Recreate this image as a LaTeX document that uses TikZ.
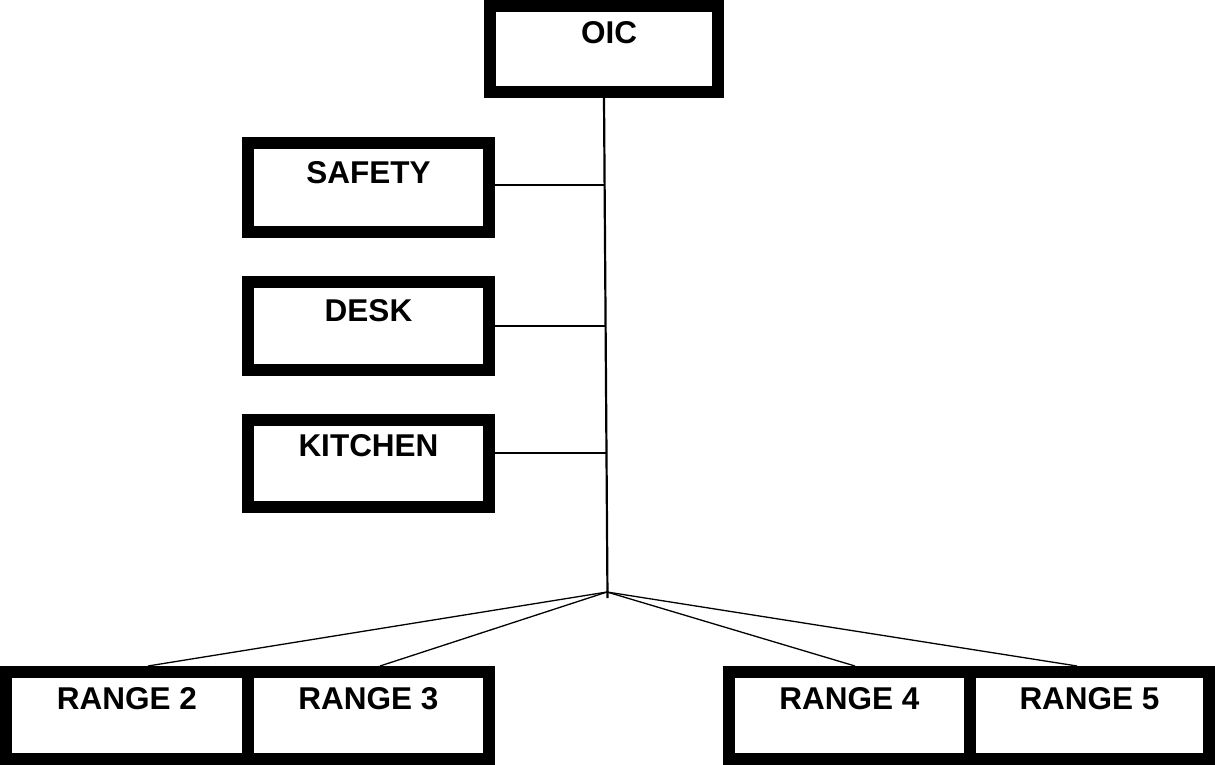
\documentclass[tikz,border=0pt]{standalone}
\usepackage{fontspec}
\setmainfont{Liberation Sans}
\usetikzlibrary{calc}
\begin{document}
\begin{tikzpicture}[x=1pt,y=-1pt,
  unitbox/.style={draw=black,line width=12pt,fill=white,inner sep=0pt,minimum height=87pt},
  lbl/.style={anchor=base,inner sep=0pt,font=\fontsize{31.5}{37}\selectfont\bfseries},
  conn/.style={draw=black,line width=1.3pt},
  trunk/.style={draw=black,line width=2.2pt}]
\useasboundingbox (0,0) rectangle (1215,765);
% boxes
\node[unitbox,minimum width=228pt,minimum height=86pt] (oic) at (604,49) {};
\node[unitbox,minimum width=241pt,minimum height=89pt] (safety) at (368.5,187.5) {};
\node[unitbox,minimum width=241pt,minimum height=88pt] (desk) at (368.5,326) {};
\node[unitbox,minimum width=241pt,minimum height=87pt] (kitchen) at (368.5,463.5) {};
\node[unitbox,minimum width=242pt] (r2) at (127,715.5) {};
\node[unitbox,minimum width=241pt] (r3) at (368.5,715.5) {};
\node[unitbox,minimum width=241pt] (r4) at (849.5,715.5) {};
\node[unitbox,minimum width=239pt] (r5) at (1089.5,715.5) {};
% labels
\node[lbl] (loic) at ([xshift=5pt,yshift=-43.5pt]oic.north) {OIC};
\node[lbl] (lsafety) at ([yshift=-46pt]safety.north) {SAFETY};
\node[lbl] (ldesk) at ([yshift=-45pt]desk.north) {DESK};
\node[lbl] (lkitchen) at ([yshift=-42.5pt]kitchen.north) {KITCHEN};
\node[lbl] (lr2) at ([yshift=-43.5pt]r2.north) {RANGE 2};
\node[lbl] (lr3) at ([yshift=-43.5pt]r3.north) {RANGE 3};
\node[lbl] (lr4) at ([yshift=-43.5pt]r4.north) {RANGE 4};
\node[lbl] (lr5) at ([yshift=-43.5pt]r5.north) {RANGE 5};
% trunk
\coordinate (vend) at (607.5,598);
\coordinate (j) at (607,592);
\coordinate (t1) at (604.7,185);
\coordinate (t2) at (605.8,326);
\coordinate (t3) at (606.8,453);
\draw[trunk] (oic.south) -- (vend);
\draw[conn] (safety.east |- t1) -- (t1);
\draw[conn] (desk.east |- t2) -- (t2);
\draw[conn] (kitchen.east |- t3) -- (t3);
\draw[conn] (j) -- ([xshift=21pt]r2.north);
\draw[conn] (j) -- ([xshift=11.5pt]r3.north);
\draw[conn] (j) -- ([xshift=5.5pt]r4.north);
\draw[conn] (j) -- ([xshift=-12.5pt]r5.north);
\end{tikzpicture}
\end{document}
